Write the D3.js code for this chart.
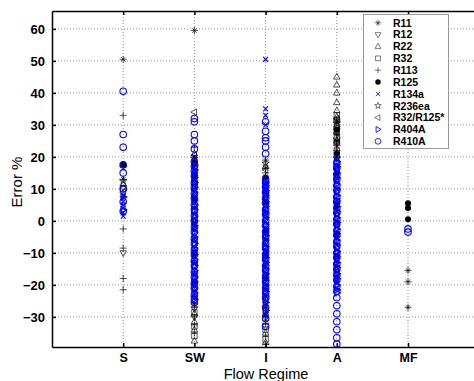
<!DOCTYPE html>
<html>
<head>
<meta charset="utf-8">
<script src="https://cdn.jsdelivr.net/npm/d3@7/dist/d3.min.js"></script>
<style>
  body { margin: 0; background: #fff; }
  svg { display: block; font-family: "Liberation Sans", Arial, sans-serif; }
</style>
</head>
<body>
<div id="chart"></div>
<script>
const regimes = ["S", "SW", "I", "A", "MF"];
const yTicks = [-30, -20, -10, 0, 10, 20, 30, 40, 50, 60];

// error values (%) per refrigerant, per flow regime
const r11 = { S: [50.5, 13, 7.5], SW: [59.5, 19, 15, 10, 4, -3, -11, -17, -22, -26], I: [19, 16.5, 14, 9, 2, -6, -14, -21, -27, -31], A: [31, 29, 27, 25, 23.5, 22, 20, 12, 4, -5, -13, -19], MF: [-15.5, -19, -27] };
const r12 = { S: [-10, 10.5], SW: [12, 2, -9, -20, -27.5, -30], I: [5, -4, -16, -26, -33], A: [28, 18, 9, -2, -12], MF: [] };
const r22 = { S: [11.5], SW: [21, 8, -7, -18, -29, -31.5, -34, -37.5], I: [17, 11, -1, -12, -24, -29, -35, -38], A: [45, 42.5, 40, 37, 34.5, 32.5, 30, 25, 14, 0, -15], MF: [] };
const r32 = { S: [10], SW: [13, 3, -14, -25, -28.5, -33, -36], I: [8, -8, -19, -28, -34, -37], A: [33, 31.5, 29.5, 28, 26, 24.5, 22, 20.5, 17, 6, -8], MF: [] };
const r113 = { S: [33, 17, -2.5, -8.5, -18, -21.5], SW: [23, 17, 6, -5, -16, -23.5, -27, -30, -32.5, -35], I: [15, 12, 3, -10, -20, -25, -27.5, -30, -32, -36, -38.5], A: [31.5, 24, 19, 7, -6, -17], MF: [] };
const r125 = { S: [17.5], SW: [18, 14, 7, -1, -10, -19], I: [13.5, 6, -3, -11, -18], A: [28.5, 21, 15, 5, -4, -11], MF: [5.5, 4, 0.5] };
const r134a = { S: [8, 6, 4, 2.5, 5, 1.5], SW: [20, 18, 16, 14.5, 12.5, 11, 9, 7.5, 5.5, 4, 2, 0.5, -1.5, -3, -5, -6.5, -8.5, -10, -12, -13.5, -15.5, -17, -19, -20.5, -22.5, -24], I: [50.5, 35, 33, 30, 12.5, 11, 9.5, 8, 6.5, 4.5, 3, 1, -0.5, -2.5, -4, -6, -7.5, -9.5, -11, -13, -14.5, -16.5, -18, -20, -21.5, -23.5, -26, -29.5], A: [20, 17, 15.5, 13.5, 12, 10, 8.5, 6.5, 5, 3, 1.5, -0.5, -2, -4, -5.5, -7.5, -9, -11, -12.5, -14.5, -16, -18, -19.5, -21], MF: [] };
const r236ea = { S: [12.5], SW: [19.5, 11, 0, -13, -24], I: [18, 7, -5, -17, -24.5], A: [30.5, 25.5, 19.5, 2, -10], MF: [] };
const r32r125 = { S: [9], SW: [34, 20.5, 9.5, -6, -21], I: [16, 4, -9, -22, -29.5], A: [32, 27.5, 16, -1, -16], MF: [] };
const r404a = { S: [7.5, 3.5], SW: [17.5, 16, 13.5, 12, 10.5, 9, 6.5, 5, 3.5, 1.5, 0, -1.5, -3.5, -5, -7, -8.5, -10.5, -12, -14, -15.5, -17.5, -19, -21, -22.5, -24.5], I: [12, 11, 9.5, 8, 6, 4.5, 2.5, 1, -1, -2.5, -4.5, -6, -8, -9.5, -11.5, -13, -15, -16.5, -18.5, -20, -22, -23.5, -25.5, -28], A: [18.5, 17, 15, 13.5, 11.5, 10, 8, 6.5, 4.5, 3, 1, -0.5, -2.5, -4, -6, -7.5, -9.5, -11, -13, -14.5, -16.5, -18, -20, -21.5, -22.5], MF: [] };
const r410a = { S: [40.5, 27, 23, 17.5, 15, 10, 6, 3], SW: [32, 31, 27, 25, 22.5, 18.5, 17, 15.5, 14, 12, 10.5, 8.5, 7, 5, 3.5, 1.5, 0, -2, -3.5, -5.5, -7, -9, -10.5, -12.5, -14, -16, -17.5, -19.5, -21, -23, -24.5, -25.5], I: [31, 28, 26, 25, 23, 21, 13, 12, 10.5, 9, 7, 5.5, 3.5, 2, 0, -1.5, -3.5, -5, -7, -8.5, -10.5, -12, -14, -15.5, -17.5, -19, -21, -22.5, -24, -27, -30.5, -33], A: [18, 16.5, 14.5, 13, 11, 9.5, 7.5, 6, 4, 2.5, 0.5, -1, -3, -4.5, -6.5, -8, -10, -11.5, -13.5, -15, -17, -18.5, -20.5, -22, -24, -26.5, -29, -31.5, -34, -36.5, -38.5], MF: [-2.5, -3.5] };

const series = [
  { name: "R11", marker: "asterisk", color: "#000", data: r11 },
  { name: "R12", marker: "tri-down", color: "#000", data: r12 },
  { name: "R22", marker: "tri-up", color: "#000", data: r22 },
  { name: "R32", marker: "square", color: "#000", data: r32 },
  { name: "R113", marker: "plus", color: "#000", data: r113 },
  { name: "R125", marker: "dot", color: "#000", data: r125 },
  { name: "R134a", marker: "cross", color: "#0000ff", data: r134a },
  { name: "R236ea", marker: "star", color: "#000", data: r236ea },
  { name: "R32/R125*", marker: "tri-left", color: "#000", data: r32r125 },
  { name: "R404A", marker: "tri-right", color: "#0000ff", data: r404a },
  { name: "R410A", marker: "circle", color: "#0000ff", data: r410a }
];

const width = 474, height = 381;
const margin = { top: 11, left: 52, bottom: 34 };

const x = d3.scaleLinear().domain([0, 6]).range([margin.left, margin.left + 6 * 71.2]);
const xPos = r => x(regimes.indexOf(r) + 1);
const y = d3.scaleLinear().domain([-39.4, 65.6]).range([height - margin.bottom, margin.top]);

const svg = d3.select("#chart").append("svg")
  .attr("width", width)
  .attr("height", height);

// gridlines
svg.append("g")
  .selectAll("line")
  .data(yTicks)
  .join("line")
  .attr("x1", margin.left).attr("x2", width)
  .attr("y1", d => y(d)).attr("y2", d => y(d))
  .attr("stroke", "#777").attr("stroke-width", 0.8).attr("stroke-dasharray", "1,2");

svg.append("g")
  .selectAll("line")
  .data(regimes)
  .join("line")
  .attr("x1", d => xPos(d)).attr("x2", d => xPos(d))
  .attr("y1", y.range()[1]).attr("y2", y.range()[0])
  .attr("stroke", "#777").attr("stroke-width", 0.8).attr("stroke-dasharray", "1,2");

// marker shapes
function markerPath(type, s) {
  const h = s * 0.9;
  switch (type) {
    case "asterisk":
      return `M${-s},0H${s}M0,${-s}V${s}M${-h * 0.7},${-h * 0.7}L${h * 0.7},${h * 0.7}M${-h * 0.7},${h * 0.7}L${h * 0.7},${-h * 0.7}`;
    case "plus":
      return `M${-s},0H${s}M0,${-s}V${s}`;
    case "cross":
      return `M${-h * 0.75},${-h * 0.75}L${h * 0.75},${h * 0.75}M${-h * 0.75},${h * 0.75}L${h * 0.75},${-h * 0.75}`;
    case "tri-up":
      return `M0,${-s}L${s * 0.9},${s * 0.6}L${-s * 0.9},${s * 0.6}Z`;
    case "tri-down":
      return `M0,${s}L${s * 0.9},${-s * 0.6}L${-s * 0.9},${-s * 0.6}Z`;
    case "tri-left":
      return `M${-s},0L${s * 0.6},${-s * 0.9}L${s * 0.6},${s * 0.9}Z`;
    case "tri-right":
      return `M${s},0L${-s * 0.6},${-s * 0.9}L${-s * 0.6},${s * 0.9}Z`;
    case "square":
      return `M${-s * 0.75},${-s * 0.75}H${s * 0.75}V${s * 0.75}H${-s * 0.75}Z`;
    case "star":
      return d3.symbol(d3.symbolStar, s * s * 1.3)();
    default:
      return d3.symbol(d3.symbolCircle, s * s * 2.6)();
  }
}

function drawMarker(g, type, color, size, sw) {
  if (type === "dot") {
    g.append("circle").attr("r", size * 0.85).attr("fill", color);
  } else {
    const blue = color !== "#000";
    g.append("path")
      .attr("d", markerPath(type, size))
      .attr("fill", "none")
      .attr("stroke", color)
      .attr("stroke-width", blue ? sw * 1.2 : sw)
      .attr("stroke-opacity", blue ? 1 : 0.75);
  }
}

// points
const pointLayer = svg.append("g");
series.forEach(s => {
  regimes.forEach(r => {
    s.data[r].forEach(v => {
      const g = pointLayer.append("g").attr("transform", `translate(${xPos(r)},${y(v)})`);
      drawMarker(g, s.marker, s.color, 3.6, 0.9);
    });
  });
});

// axes box
const yAxis = svg.append("g")
  .attr("transform", `translate(${margin.left},0)`)
  .call(d3.axisLeft(y).tickValues(yTicks).tickSize(-4).tickPadding(7).tickSizeOuter(0));
yAxis.select(".domain").attr("stroke-width", 1.5);
yAxis.selectAll(".tick line").attr("stroke-width", 1.5);
yAxis.selectAll("text").attr("font-size", 13).attr("font-weight", "bold")
  .attr("font-family", "Liberation Sans, Arial, sans-serif");

const xAxis = svg.append("g")
  .attr("transform", `translate(0,${y.range()[0]})`)
  .call(d3.axisBottom(x).tickValues([1, 2, 3, 4, 5]).tickFormat(d => regimes[d - 1])
    .tickSize(-4).tickPadding(6).tickSizeOuter(0));
xAxis.select(".domain").attr("stroke-width", 1.5);
xAxis.selectAll(".tick line").attr("stroke-width", 1.5);
xAxis.selectAll("text").attr("font-size", 12.5).attr("font-weight", "bold")
  .attr("font-family", "Liberation Sans, Arial, sans-serif");

const topAxis = svg.append("g")
  .attr("transform", `translate(0,${y.range()[1]})`)
  .call(d3.axisTop(x).tickValues([1, 2, 3, 4, 5]).tickFormat("").tickSize(-4).tickSizeOuter(0));
topAxis.select(".domain").attr("stroke-width", 1.5);
topAxis.selectAll(".tick line").attr("stroke-width", 1.5);

// axis labels
svg.append("text")
  .attr("x", 266).attr("y", 379)
  .attr("text-anchor", "middle")
  .attr("font-size", 14.5)
  .text("Flow Regime");

svg.append("text")
  .attr("transform", "rotate(-90)")
  .attr("x", -182).attr("y", 22)
  .attr("text-anchor", "middle")
  .attr("font-size", 15)
  .text("Error %");

// legend
const legend = svg.append("g");
legend.append("rect")
  .attr("x", 363.5).attr("y", 14.5)
  .attr("width", 85).attr("height", 134)
  .attr("fill", "#fff").attr("stroke", "#999").attr("stroke-width", 1);

series.forEach((s, i) => {
  const ly = 22.8 + i * 11.85;
  const g = legend.append("g").attr("transform", `translate(378,${ly})`);
  drawMarker(g, s.marker, s.color, 3.2, 0.7);
  legend.append("text")
    .attr("x", 393).attr("y", ly + 3.8)
    .attr("font-size", 10.5).attr("font-weight", "bold")
    .text(s.name);
});
</script>
</body>
</html>
